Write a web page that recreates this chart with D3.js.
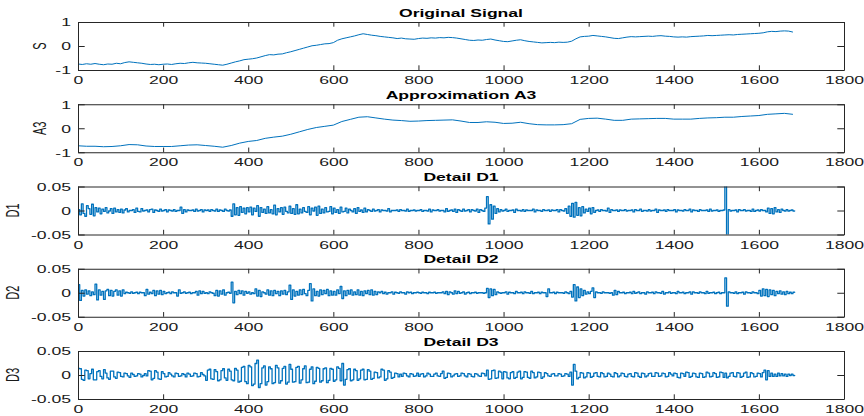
<!DOCTYPE html>
<html>
<head>
<meta charset="utf-8">
<script src="https://cdn.jsdelivr.net/npm/d3@7"></script>
<style>
	html, body { margin: 0; padding: 0; background: #fff; }
	svg { display: block; }
</style>
</head>
<body>
<div id="chart"></div>
<script>
// ─── Data ────────────────────────────────────────────────────────────────
var X_TICKS = [ 0, 200, 400, 600, 800, 1000, 1200, 1400, 1600, 1800 ];
var SIGNAL_TICKS      = [ -1, 0, 1 ];
var SIGNAL_TICK_TEXT  = [ '-1', '0', '1' ];
var DETAIL_TICKS      = [ -0.05, 0, 0.05 ];
var DETAIL_TICK_TEXT  = [ '-0.05', '0', '0.05' ];

// Original signal S, one value every 10 samples.
var S_STEP = 10;
var S_VALUES = [
	-.75,-.77,-.74,-.76,-.73,-.76,-.78,-.75,-.76,-.72,
	-.74,-.69,-.66,-.68,-.70,-.72,-.75,-.77,-.76,-.78,
	-.76,-.75,-.77,-.74,-.72,-.73,-.70,-.68,-.70,-.71,
	-.72,-.74,-.76,-.78,-.80,-.76,-.71,-.66,-.62,-.57,
	-.55,-.53,-.50,-.45,-.40,-.36,-.37,-.34,-.33,-.28,
	-.24,-.19,-.14,-.09,-.04,.01,.03,.06,.09,.10,
	.14,.24,.30,.34,.38,.42,.47,.51,.48,.45,
	.43,.40,.38,.36,.34,.31,.33,.30,.29,.28,
	.31,.33,.32,.34,.33,.35,.34,.36,.35,.33,
	.30,.27,.24,.23,.25,.24,.27,.29,.25,.22,
	.19,.18,.21,.24,.26,.22,.19,.17,.15,.13,
	.14,.15,.14,.16,.15,.16,.20,.30,.38,.40,
	.41,.44,.42,.40,.38,.35,.32,.31,.34,.37,
	.39,.38,.39,.40,.41,.40,.42,.43,.41,.40,
	.38,.37,.38,.37,.39,.40,.41,.42,.44,.43,
	.44,.45,.46,.47,.46,.48,.49,.50,.51,.52,
	.53,.55,.59,.61,.60,.62,.63,.62,.58
];

// Approximation A3, one value every 20 samples.
var A3_STEP = 20;
var A3_VALUES = [
	-.73,-.75,-.75,-.77,-.76,-.73,-.68,-.69,-.74,-.76,
	-.76,-.76,-.73,-.70,-.69,-.72,-.75,-.79,-.72,-.62,
	-.55,-.51,-.42,-.37,-.33,-.25,-.15,-.05,.03,.08,
	.13,.28,.37,.46,.48,.43,.38,.34,.32,.29,
	.30,.32,.33,.34,.35,.30,.24,.24,.27,.25,
	.20,.21,.25,.19,.15,.14,.14,.15,.19,.37,
	.41,.42,.38,.33,.33,.38,.39,.40,.41,.41,
	.38,.38,.38,.41,.43,.44,.46,.46,.49,.51,
	.53,.58,.60,.62,.58
];

// Details D1..D3, one value every 4 samples, in units of 1e-3.
var D_STEP = 4;
var D1_MILLI = [
	2,-9,14,-6,-12,10,4,-8,13,-11,6,-3,5,-7,3,-2,6,-5,-1,4,-6,5,-3,2,-4,
	3,-5,1,4,-3,0,0,2,-4,5,-2,-3,4,-1,0,1,-3,2,3,-4,1,0,-2,3,-1,
	0,2,-3,1,0,-1,2,-2,0,0,7,-6,2,-3,1,0,0,1,-2,3,-1,0,2,-3,1,
	0,1,-2,2,0,-1,3,-2,1,0,-2,3,0,-1,1,-12,14,-9,6,-10,8,-4,5,-7,6,
	-3,7,-9,5,-2,10,-12,6,-4,3,-6,8,-5,2,-7,11,-9,4,-3,6,-8,7,-2,-5,9,
	-6,4,-8,12,-7,3,-5,6,-2,-4,8,-9,5,-1,7,-10,9,-6,3,-5,6,-3,-2,8,-7,
	5,-4,2,-6,7,-3,-2,5,-5,3,0,-3,4,-6,6,-2,1,-4,5,-3,2,0,-2,3,-1,
	0,2,-3,1,0,0,-1,4,-3,0,0,0,1,-2,2,0,0,-1,3,-2,0,0,1,-1,0,
	0,2,-2,0,0,-1,3,-3,1,0,0,2,-1,0,0,-3,4,-2,0,1,-2,3,-4,2,0,
	-2,3,-1,0,2,-3,2,0,-1,3,-4,2,0,-2,5,29,-28,12,-18,9,-6,4,-3,2,-1,
	0,3,-2,0,0,1,-4,3,0,0,-1,2,-2,1,0,0,0,3,-3,1,0,0,-2,2,0,
	0,1,-2,1,0,0,2,-3,2,0,-1,4,-6,9,-12,15,-14,17,-10,6,-11,8,-5,3,-2,
	5,-7,6,-4,0,1,-2,2,0,0,-1,5,-4,2,0,0,1,-2,1,0,0,2,-1,0,0,
	1,-3,2,0,0,3,-2,0,0,-1,2,-1,0,0,3,-4,1,0,0,1,-2,2,0,0,0,
	2,-3,1,0,0,-1,2,0,0,3,-3,1,0,0,-2,2,0,0,0,1,-2,3,-1,0,0,
	1,-2,0,0,1,70,-70,2,-1,0,0,1,-3,2,0,0,2,-1,0,0,-2,3,-2,0,1,
	-1,2,0,0,-3,5,-6,4,-7,6,-3,2,-4,3,0,-1,2,-1,0,1,-1,0
];
var D2_MILLI = [
	17,-16,5,-7,6,-3,4,-6,2,-4,18,-15,6,-5,3,-14,4,7,-6,5,-7,3,6,-5,4,
	-7,6,-2,1,0,-1,2,-1,0,1,-2,1,0,0,-6,7,-3,1,-2,5,-6,4,-3,5,-4,
	3,-2,0,1,-2,2,0,0,-7,6,-1,0,2,-1,0,1,-2,0,0,3,-5,4,-2,3,-1,
	0,-2,2,0,-1,-6,5,-7,4,-3,6,-5,0,1,-1,22,-21,3,-4,5,-2,4,-5,3,-1,
	2,-3,0,-2,8,-7,5,-8,2,0,-3,6,-5,4,-6,5,-2,3,-6,4,-3,5,-4,2,16,
	-14,6,-7,3,-5,6,-4,7,-2,-6,5,19,-17,8,-6,3,-7,6,-4,5,-2,7,-6,4,-5,
	3,-5,6,-2,13,-12,4,-6,5,-3,6,-5,2,-4,6,-5,3,-6,4,-2,5,-4,6,-5,3,
	-4,2,0,3,-2,1,-3,0,0,2,-3,1,0,-1,2,0,0,-3,2,0,1,-2,0,0,1,
	0,-1,1,0,0,-2,1,0,0,1,-1,0,0,0,2,-2,3,-4,2,0,-3,4,-2,3,-1,
	0,2,-3,0,1,-2,0,0,1,-1,0,0,0,-1,0,9,-10,8,-6,7,-4,2,0,-1,0,
	0,2,-3,1,0,0,-2,3,0,0,1,-2,2,0,0,-1,3,-2,0,0,1,-2,1,0,0,
	-8,8,0,0,1,-2,1,0,0,0,-1,2,0,-2,3,-9,17,-17,12,-10,8,-6,5,-3,2,
	-2,3,10,-10,2,0,0,-1,2,0,0,0,-1,0,-5,5,-4,3,0,0,1,-2,0,0,1,
	-2,3,-1,0,2,-2,0,0,-3,2,0,0,1,-2,2,0,0,-1,3,-3,0,0,2,-1,0,
	0,-2,3,0,0,1,-2,0,0,2,-3,2,0,0,-1,2,0,0,-2,3,-1,0,0,1,-2,
	0,1,-2,0,0,31,-28,2,0,0,-1,2,-2,0,0,1,-3,2,0,0,-1,2,0,0,-2,
	5,-7,8,-6,7,-8,6,-4,5,-6,3,-2,4,-3,2,-4,3,-2,1,-2,1,0
];
var D3_MILLI = [
	14,13,-9,-11,10,9,-8,3,12,-10,-10,7,9,-3,-8,11,4,-6,-9,8,8,-4,-7,6,5,
	-3,-4,4,3,-2,-5,4,1,-3,-2,3,2,-4,-1,3,-2,9,8,-10,-7,9,6,-8,-9,7,
	3,-4,-3,5,2,-2,-4,4,3,-3,-2,3,1,-4,4,2,-3,-2,4,3,-4,-3,5,1,-2,
	-11,10,12,-8,-9,11,7,-12,-10,9,13,-6,-11,12,8,-10,-12,14,10,-15,-13,16,18,-14,-18,
	20,17,-22,-19,24,31,-26,-18,15,19,-21,-14,17,13,-18,-16,20,15,-17,-12,14,18,-19,-15,22,
	12,-15,-14,16,18,-17,-10,13,19,-16,-15,12,17,-18,-13,16,14,-15,-12,13,15,-16,-11,14,12,
	-13,-10,17,14,-12,24,-21,-9,11,13,-12,-10,12,9,-11,-8,10,12,-10,-9,11,8,-9,-7,6,
	5,-6,-4,12,10,-11,-8,9,6,-7,-5,4,3,-4,2,-3,4,3,-2,-4,3,2,-3,-2,4,
	-3,2,3,-4,-2,4,2,-3,-3,2,4,-2,-3,3,8,-7,-5,4,3,-4,-2,2,3,-3,-2,
	4,3,-2,-4,3,2,-3,-4,3,2,-2,-3,4,3,-2,10,-9,-8,9,10,-7,-6,8,6,-8,
	7,6,-6,-8,5,7,-7,-5,6,8,-8,-5,7,6,-5,-7,8,5,-6,-4,6,5,-7,-4,5,
	3,-2,-3,2,3,-2,-2,3,2,-3,-2,3,2,-3,6,-21,22,8,-8,-5,5,4,-6,-4,5,
	4,-5,-3,4,5,-3,-4,5,3,-4,-3,4,2,-3,-4,5,3,-4,-2,4,3,-3,-4,2,3,
	-3,-4,5,4,-3,-5,4,3,-4,-2,3,4,-3,-3,5,4,-3,-2,4,3,-4,-3,5,2,-2,
	4,3,-5,-6,4,3,-3,6,5,-5,-3,4,3,-4,-5,4,3,-5,-4,6,4,-4,-3,5,3,
	-5,-4,6,5,-5,4,-6,-3,4,5,-3,-4,5,4,-5,-3,4,6,-5,-4,5,3,-4,-3,4,
	3,-4,5,10,-10,9,-3,4,-3,2,-3,4,-2,3,-2,2,-3,2,-1,2,-1,0
];

( function () {
	'use strict';

	var WIDTH  = 864;
	var HEIGHT = 416;
	var LEFT   = 78;
	var RIGHT  = 844;
	var TOP0   = 22;
	var PITCH  = 82.25;
	var PLOT_H = 48;
	var STRETCH = 1.6;   // the reference figure is stretched horizontally

	var COLORS = {
		line: '#0072bd',
		axis: '#262626',
		text: '#1a1a1a'
	};
	var FONT = '"Liberation Sans", Arial, Helvetica, sans-serif';

	// Details are piecewise constant (Haar blocks), so they are drawn as steps.
	var PANELS = [
		{ title: 'Original Signal',  label: 'S',  values: S_VALUES,  step: S_STEP,  unit: 1,    curve: d3.curveLinear,    width: 1,   domain: [ -1, 1 ],       ticks: SIGNAL_TICKS, tickText: SIGNAL_TICK_TEXT, labelX: 40 },
		{ title: 'Approximation A3', label: 'A3', values: A3_VALUES, step: A3_STEP, unit: 1,    curve: d3.curveLinear,    width: 1,   domain: [ -1, 1 ],       ticks: SIGNAL_TICKS, tickText: SIGNAL_TICK_TEXT, labelX: 40 },
		{ title: 'Detail D1',        label: 'D1', values: D1_MILLI,  step: D_STEP,  unit: 1e-3, curve: d3.curveStepAfter, width: 1.3, domain: [ -0.05, 0.05 ], ticks: DETAIL_TICKS, tickText: DETAIL_TICK_TEXT, labelX: 13 },
		{ title: 'Detail D2',        label: 'D2', values: D2_MILLI,  step: D_STEP,  unit: 1e-3, curve: d3.curveStepAfter, width: 1.3, domain: [ -0.05, 0.05 ], ticks: DETAIL_TICKS, tickText: DETAIL_TICK_TEXT, labelX: 13 },
		{ title: 'Detail D3',        label: 'D3', values: D3_MILLI,  step: D_STEP,  unit: 1e-3, curve: d3.curveStepAfter, width: 1.3, domain: [ -0.05, 0.05 ], ticks: DETAIL_TICKS, tickText: DETAIL_TICK_TEXT, labelX: 13 }
	];

	var svg = d3.select( '#chart' )
		.append( 'svg' )
		.attr( 'width', WIDTH )
		.attr( 'height', HEIGHT )
		.style( 'font-family', FONT );

	var x = d3.scaleLinear().domain( [ 0, 1800 ] ).range( [ LEFT, RIGHT ] );

	// ─── Helpers ─────────────────────────────────────────────────────────────
	function styleAxis( s ) {
		s.attr( 'font-family', FONT ).attr( 'font-size', 11 );
		s.select( '.domain' ).attr( 'stroke', COLORS.axis );
		s.selectAll( 'line' ).attr( 'stroke', COLORS.axis );
	}

	// ─── Panels ──────────────────────────────────────────────────────────────
	PANELS.forEach( function ( p, i ) {
		var top    = TOP0 + i * PITCH;
		var bottom = top + PLOT_H;
		var y = d3.scaleLinear().domain( p.domain ).range( [ bottom, top ] );

		var clipId = 'clip-' + i;
		svg.append( 'clipPath' ).attr( 'id', clipId )
			.append( 'rect' )
			.attr( 'x', LEFT ).attr( 'y', top )
			.attr( 'width', RIGHT - LEFT ).attr( 'height', PLOT_H );

		var line = d3.line()
			.x( function ( d, j ) { return x( j * p.step ); } )
			.y( function ( d ) { return y( d * p.unit ); } )
			.curve( p.curve );

		svg.append( 'path' )
			.datum( p.values )
			.attr( 'clip-path', 'url(#' + clipId + ')' )
			.attr( 'fill', 'none' )
			.attr( 'stroke', COLORS.line )
			.attr( 'stroke-width', p.width )
			.attr( 'stroke-linejoin', 'round' )
			.attr( 'd', line );

		// Bottom axis with labels, ticks pointing in.
		svg.append( 'g' )
			.attr( 'transform', 'translate(0,' + bottom + ')' )
			.call( d3.axisBottom( x ).tickValues( X_TICKS ).tickSizeInner( -4.7 ).tickSizeOuter( 0 ).tickFormat( d3.format( 'd' ) ) )
			.call( styleAxis )
			.call( function ( s ) {
				s.selectAll( 'text' )
					.attr( 'y', 0 ).attr( 'dy', 0 )
					.attr( 'fill', COLORS.text )
					.attr( 'transform', 'translate(0,14) scale(' + STRETCH + ',1)' );
			} );

		// Top axis, ticks only.
		svg.append( 'g' )
			.attr( 'transform', 'translate(0,' + top + ')' )
			.call( d3.axisTop( x ).tickValues( X_TICKS ).tickSizeInner( -4.7 ).tickSizeOuter( 0 ).tickFormat( '' ) )
			.call( styleAxis )
			.call( function ( s ) { s.selectAll( 'text' ).remove(); } );

		// Left axis with labels.
		svg.append( 'g' )
			.attr( 'transform', 'translate(' + LEFT + ',0)' )
			.call( d3.axisLeft( y ).tickValues( p.ticks ).tickSizeInner( -6.7 ).tickSizeOuter( 0 )
				.tickFormat( function ( d, k ) { return p.tickText[ k ]; } ) )
			.call( styleAxis )
			.call( function ( s ) {
				s.selectAll( 'text' )
					.attr( 'x', 0 ).attr( 'dy', '0.36em' )
					.attr( 'text-anchor', 'end' )
					.attr( 'fill', COLORS.text )
					.attr( 'transform', 'translate(-7,0) scale(' + STRETCH + ',1)' );
			} );

		// Right axis, ticks only.
		svg.append( 'g' )
			.attr( 'transform', 'translate(' + RIGHT + ',0)' )
			.call( d3.axisRight( y ).tickValues( p.ticks ).tickSizeInner( -6.7 ).tickSizeOuter( 0 ).tickFormat( '' ) )
			.call( styleAxis )
			.call( function ( s ) { s.selectAll( 'text' ).remove(); } );

		// Title.
		svg.append( 'text' )
			.attr( 'transform', 'translate(' + ( ( LEFT + RIGHT ) / 2 ) + ',' + ( top - 5.5 ) + ') scale(' + STRETCH + ',1)' )
			.attr( 'text-anchor', 'middle' )
			.attr( 'fill', '#000' )
			.style( 'font-size', '11px' )
			.style( 'font-weight', 'bold' )
			.text( p.title );

		// Y label.
		svg.append( 'text' )
			.attr( 'transform', 'translate(' + p.labelX + ',' + ( top + PLOT_H / 2 ) + ') scale(' + STRETCH + ',1) rotate(-90)' )
			.attr( 'text-anchor', 'middle' )
			.attr( 'dy', '0.36em' )
			.attr( 'fill', COLORS.text )
			.style( 'font-size', '11px' )
			.text( p.label );
	} );

} )();
</script>
</body>
</html>
